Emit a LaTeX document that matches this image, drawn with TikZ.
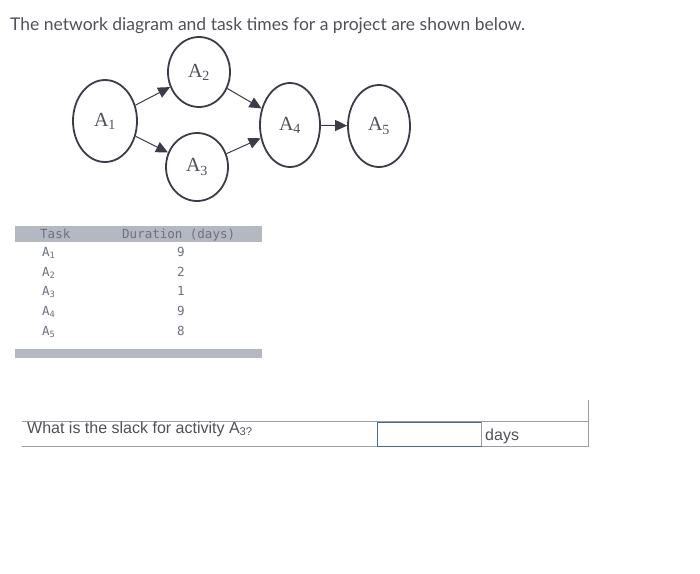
\documentclass[tikz,border=0pt]{standalone}
\usepackage{fontspec}
\setmainfont{Liberation Serif}
\newfontfamily\titlefont{Lato}
\newfontfamily\arialfont{Liberation Sans}
\newfontfamily\monofont{DejaVu Sans Mono}
\usetikzlibrary{arrows.meta,shapes.geometric}
\definecolor{ink}{HTML}{3C3C48}
\definecolor{txt}{HTML}{505058}
\definecolor{tabtxt}{HTML}{6E7080}
\definecolor{bar}{HTML}{B4B8C0}
\definecolor{boxblue}{HTML}{4A6A8A}
\definecolor{rule}{HTML}{9A9EA4}
\tikzset{
  x=1pt, y=-1pt,
  act/.style={draw=ink, line width=1.8pt, ellipse, inner sep=0pt, font=\fontsize{20}{20}\selectfont, text=txt},
  link/.style={draw=ink, line width=1pt, -{Triangle[length=12pt,width=11pt]}},
  tab/.style={font=\monofont\fontsize{12.5}{12.5}\selectfont, text=tabtxt, inner sep=0pt},
}
\begin{document}
\begin{tikzpicture}
\useasboundingbox[fill=white] (0,0) rectangle (700,573);
\node[anchor=base west, inner sep=0pt, text=txt, font=\titlefont\fontsize{17.5}{17.5}\selectfont] (title) at (10,30) {The network diagram and task times for a project are shown below.};
% network
\node[act, minimum width=64pt, minimum height=82pt] (a1) at (105,121) {A\textsubscript{1}};
\node[act, minimum width=62pt, minimum height=70pt] (a2) at (199,72) {A\textsubscript{2}};
\node[act, minimum width=62pt, minimum height=68pt] (a3) at (197,167) {A\textsubscript{3}};
\node[act, minimum width=60pt, minimum height=84pt] (a4) at (290,125) {A\textsubscript{4}};
\node[act, minimum width=62pt, minimum height=82pt] (a5) at (379,126) {A\textsubscript{5}};
\draw[link] (a1) -- (a2);
\draw[link] (a1) -- (a3);
\draw[link] (a2) -- (a4);
\draw[link] (a3) -- (a4);
\draw[link] (a4) -- (a5);
% table
\fill[bar] (15,226) rectangle (262,242);
\fill[bar] (15,349) rectangle (262,358);
\node[tab, anchor=base west] (th1) at (40,238) {Task};
\node[tab, anchor=base west] (th2) at (122,238) {Duration (days)};
\foreach \i/\d/\y in {1/9/256,2/2/276,3/1/295,4/9/315,5/8/335}{
  \node[tab, anchor=base west] (t\i) at (42,\y) {A\textsubscript{\i}};
  \node[tab, anchor=base] (d\i) at (181,\y) {\d};
}
% question row
\draw[rule, line width=0.8pt] (22,421) -- (588,421);
\draw[rule, line width=0.8pt] (22,446) -- (588,446);
\draw[rule, line width=0.8pt] (588,400) -- (588,447);
\node[anchor=base west, inner sep=0pt, text=txt, font=\arialfont\fontsize{16}{16}\selectfont] (q) at (27,433) {What is the slack for activity A\textsubscript{3?}};
\draw[boxblue, line width=1pt] (377,422) rectangle (481,446);
\draw[rule, line width=0.8pt] (481,422) -- (481,446);
\node[anchor=base west, inner sep=0pt, text=txt, font=\arialfont\fontsize{16}{16}\selectfont] (days) at (485,440) {days};
\end{tikzpicture}
\end{document}
